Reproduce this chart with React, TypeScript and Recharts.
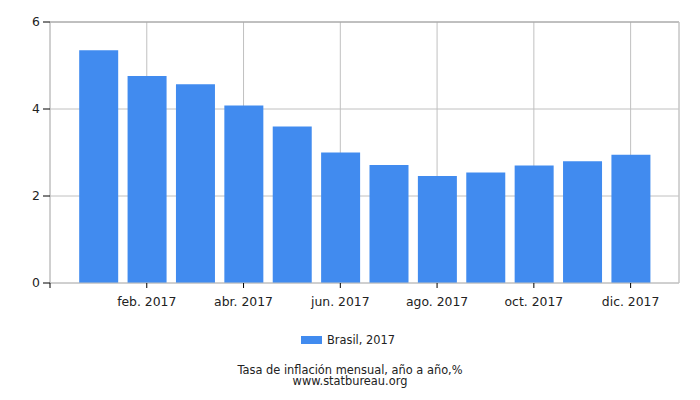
import { BarChart, Bar, XAxis, YAxis, CartesianGrid, Legend, ReferenceLine } from "recharts";

const months = [
  "ene. 2017", "feb. 2017", "mar. 2017", "abr. 2017", "may. 2017", "jun. 2017",
  "jul. 2017", "ago. 2017", "sep. 2017", "oct. 2017", "nov. 2017", "dic. 2017",
];
const brasil2017 = [5.35, 4.76, 4.57, 4.08, 3.6, 3.0, 2.71, 2.46, 2.54, 2.7, 2.8, 2.95];
const yTicks = [0, 2, 4, 6];
const xTicks = [0, 2, 4, 6, 8, 10, 12];

const seriesName = "Brasil, 2017";
const title = "Tasa de inflación mensual, año a año,%";
const source = "www.statbureau.org";

// month index 1..12, axis runs from dic. 2016 (0) to ene. 2018 (13)
const data = months.map((m, i) => ({ idx: i + 1, month: m, value: brasil2017[i] }));

const font = "'DejaVu Sans', Verdana, sans-serif";

const LegendBox = () => (
  <div style={{ display: "flex", justifyContent: "center", alignItems: "center", fontSize: 11.4, lineHeight: "14px", height: 14, color: "#222" }}>
    <span style={{ width: 21, height: 8, background: "#418BEF", display: "inline-block", marginRight: 5 }} />
    {seriesName}
  </div>
);

export default function App() {
  return (
    <div style={{ position: "absolute", left: 0, top: 0, width: 700, height: 400, background: "#fff", fontFamily: font }}>
      {/* legend takes 14px out of the bottom offset */}
      <BarChart width={700} height={400} data={data} margin={{ top: 22, right: 21, bottom: 73, left: 0 }}>
        <CartesianGrid stroke="#c0c0c0" />
        <XAxis
          type="number"
          dataKey="idx"
          domain={[0, 13]}
          ticks={xTicks}
          allowDataOverflow
          height={30}
          tickFormatter={(v) => months[v - 1] ?? ""}
          tick={{ fontSize: 12.4, fill: "#222", fontFamily: font }}
          tickSize={5}
          tickMargin={9}
          axisLine={{ stroke: "#c0c0c0" }}
          tickLine={{ stroke: "#000" }}
        />
        <YAxis
          width={50}
          domain={[0, 6]}
          ticks={yTicks}
          tick={{ fontSize: 12.4, fill: "#222", fontFamily: font }}
          tickSize={7}
          tickMargin={3}
          axisLine={{ stroke: "#c0c0c0" }}
          tickLine={{ stroke: "#000" }}
        />
        <ReferenceLine y={6} stroke="#a0a0a0" />
        <ReferenceLine x={13} stroke="#c8c8c8" />
        <Bar dataKey="value" name={seriesName} fill="#418BEF" barSize={39} isAnimationActive={false} />
        <Legend
          content={() => <LegendBox />}
          wrapperStyle={{ position: "absolute", top: 333, left: -2, width: 700, height: 14 }}
        />
      </BarChart>
      <div style={{ position: "absolute", top: 364.5, left: 0, width: 700, textAlign: "center", fontSize: 11.4, lineHeight: "11.5px", color: "#222" }}>
        <div>{title}</div>
        <div>{source}</div>
      </div>
    </div>
  );
}
